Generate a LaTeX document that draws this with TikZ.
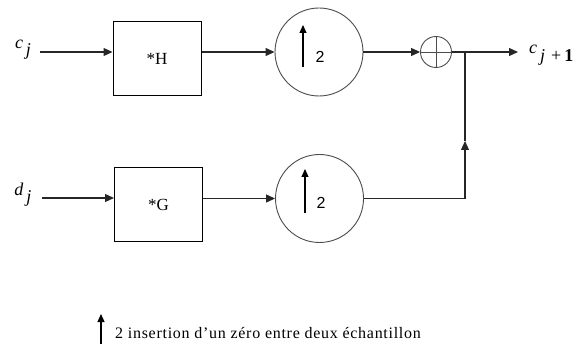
\documentclass[tikz,border=0pt]{standalone}
\usepackage{fontspec}
\setmainfont{Liberation Serif}
\newfontfamily\numfont{Liberation Sans}
\usetikzlibrary{arrows.meta,calc}

\tikzset{
  wire/.style={line width=1.2pt, draw=black!85},
  arr/.style={wire, -{Triangle[length=9pt,width=8pt]}},
  filtbox/.style={draw=black, line width=1pt, minimum width=88pt, minimum height=74pt,
                  inner sep=0pt, font=\fontsize{17}{19}\selectfont},
  upsamp/.style={circle, draw=black!70, line width=0.9pt, minimum size=88pt, inner sep=0pt},
  adder/.style={circle, draw=black!70, line width=0.9pt, minimum size=31pt, inner sep=0pt},
  uparr/.style={line width=1.1pt, -{Triangle[length=8pt,width=7pt]}},
  sig/.style={inner sep=0pt, font=\fontsize{18}{20}\selectfont\itshape},
  two/.style={inner sep=0pt, font=\numfont\fontsize{16}{18}\selectfont},
}

\begin{document}
\begin{tikzpicture}[x=1pt,y=-1pt]
  \useasboundingbox (0,0) rectangle (578,347);

  % input signals
  \node[sig] (cj) at (23,50) {c\raisebox{-7pt}{\,j}};
  \node[sig] (dj) at (23,195) {d\raisebox{-7pt}{\,j}};
  \coordinate (inH) at (40,52);
  \coordinate (inG) at (42,198);

  % analysis filters
  \node[filtbox] (H) at (157,59) {*H};
  \node[filtbox] (G) at (158.5,205) {*G};

  % upsamplers by 2
  \node[upsamp] (U1) at (319,52) {};
  \node[upsamp] (U2) at (319.5,198.5) {};
  \coordinate (u1a) at (303,67);  \coordinate (u1b) at (303,25);
  \coordinate (u2a) at (305,213); \coordinate (u2b) at (305,169);
  \draw[uparr] (u1a) -- (u1b);
  \draw[uparr] (u2a) -- (u2b);
  \node[two] (n1) at (320,57) {2};
  \node[two] (n2) at (321,203) {2};

  % summing junction
  \node[adder] (S) at (436,52) {};
  \draw[line width=0.9pt, draw=black!70] (S.north) -- (S.south) (S.west) -- (S.east);

  % output
  \coordinate (J) at (465,52);
  \coordinate (M) at (465,141);
  \coordinate (out) at (518,52);
  \node[inner sep=0pt, anchor=west, font=\fontsize{18}{20}\selectfont] (cj1) at (529,55)
    {\textit{c}\raisebox{-8pt}{\,\textit{j}\,\,+\,\textbf{1}}};

  % connectors
  \draw[arr] (inH) -- (inH -| H.west);
  \draw[arr] (H.east |- U1.west) -- (U1.west);
  \draw[arr] (U1.east) -- (S.west);
  \draw[arr] (S.east) -- (out);

  \draw[arr] (inG) -- (inG -| G.west);
  \draw[arr] (G.east |- U2.west) -- (U2.west);
  \draw[arr] (U2.east) -| (M);
  \draw[wire] (M) -- (J);

  % legend
  \coordinate (la) at (101,344);
  \coordinate (lb) at (101,314);
  \draw[uparr] (la) -- (lb);
  \node[inner sep=0pt, anchor=base west,
        font=\fontsize{16}{18}\selectfont\addfontfeature{LetterSpace=4.5}] (leg) at (115,338)
    {2 insertion d’un zéro entre deux échantillon};
\end{tikzpicture}
\end{document}
